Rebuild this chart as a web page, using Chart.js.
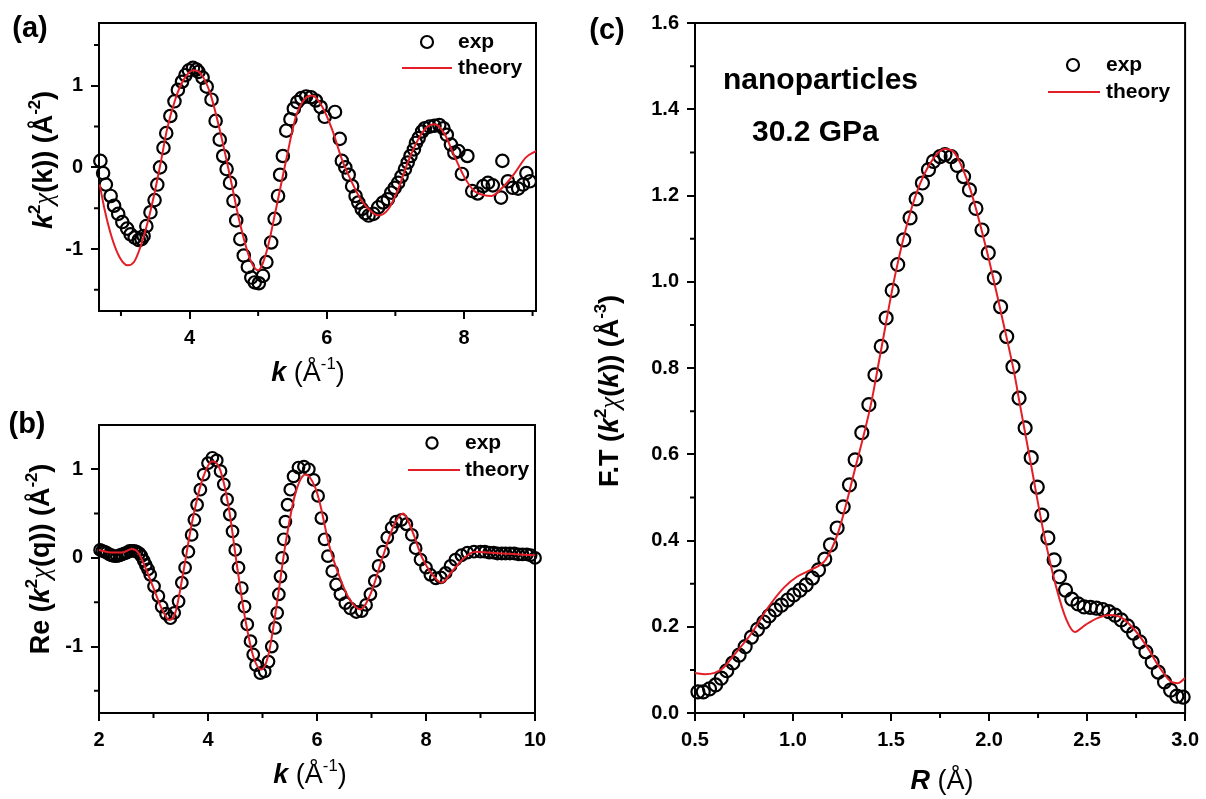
<!DOCTYPE html>
<html><head><meta charset="utf-8">
<script src="https://cdn.jsdelivr.net/npm/chart.js@4.4.1/dist/chart.umd.min.js"></script>
<style>
html,body{margin:0;padding:0;background:#fff;width:1206px;height:799px;overflow:hidden;position:relative}
canvas{position:absolute}
</style></head><body>
<canvas id="ca" width="560" height="400" style="left:0;top:0"></canvas>
<canvas id="cb" width="560" height="399" style="left:0;top:400px"></canvas>
<canvas id="cc" width="646" height="799" style="left:560px;top:0"></canvas>
<script>
// ---------------- data: panel (a) ----------------
const aExpK = [2.70,2.74,2.78,2.85,2.90,2.96,3.02,3.09,3.14,3.20,3.26,3.30,3.33,3.37,3.43,3.49,3.53,3.57,3.62,3.66,3.72,3.78,3.83,3.89,3.94,3.99,4.05,4.10,4.13,4.19,4.25,4.32,4.38,4.44,4.49,4.54,4.59,4.64,4.68,4.74,4.79,4.85,4.90,4.95,5.01,5.07,5.12,5.19,5.24,5.29,5.32,5.36,5.41,5.47,5.52,5.57,5.63,5.70,5.77,5.84,5.91,5.97,6.12,6.19,6.22,6.27,6.32,6.37,6.42,6.46,6.51,6.56,6.61,6.68,6.75,6.82,6.89,6.94,6.99,7.04,7.09,7.14,7.18,7.22,7.27,7.30,7.34,7.39,7.43,7.50,7.57,7.64,7.70,7.75,7.81,7.86,7.92,7.97,8.05,8.12,8.20,8.28,8.35,8.42,8.54,8.56,8.64,8.71,8.79,8.86,8.91,8.96];
const aExpV = [0.08,-0.07,-0.21,-0.35,-0.47,-0.57,-0.67,-0.75,-0.82,-0.86,-0.89,-0.88,-0.84,-0.72,-0.55,-0.40,-0.21,0.00,0.24,0.42,0.63,0.81,0.95,1.05,1.13,1.19,1.22,1.20,1.17,1.10,0.99,0.83,0.57,0.34,0.14,-0.02,-0.19,-0.41,-0.65,-0.88,-1.08,-1.22,-1.35,-1.41,-1.42,-1.33,-1.16,-0.92,-0.63,-0.35,-0.09,0.14,0.45,0.59,0.72,0.80,0.85,0.87,0.86,0.82,0.74,0.62,0.68,0.35,0.08,0.00,-0.09,-0.23,-0.35,-0.43,-0.51,-0.56,-0.59,-0.57,-0.49,-0.43,-0.39,-0.31,-0.25,-0.19,-0.11,-0.02,0.06,0.14,0.22,0.30,0.36,0.44,0.48,0.50,0.51,0.52,0.48,0.40,0.28,0.18,0.20,-0.08,0.14,-0.29,-0.32,-0.23,-0.19,-0.22,-0.37,0.08,-0.17,-0.25,-0.26,-0.21,-0.07,-0.17];
const aThK = [2.69,2.76,2.86,2.98,3.10,3.19,3.29,3.39,3.48,3.58,3.67,3.79,3.91,4.06,4.18,4.30,4.44,4.59,4.73,4.88,5.00,5.12,5.26,5.41,5.55,5.69,5.79,5.93,6.08,6.22,6.37,6.51,6.66,6.75,6.90,7.04,7.18,7.33,7.47,7.57,7.71,7.86,8.00,8.15,8.29,8.40,8.58,8.74,8.90,9.05];
const aThV = [-0.21,-0.51,-0.84,-1.10,-1.20,-1.16,-0.96,-0.67,-0.35,0.06,0.46,0.83,1.07,1.19,1.13,0.91,0.46,-0.11,-0.67,-1.12,-1.26,-1.04,-0.51,0.10,0.62,0.85,0.88,0.75,0.46,0.10,-0.19,-0.41,-0.55,-0.59,-0.51,-0.27,0.06,0.34,0.50,0.53,0.42,0.14,-0.11,-0.29,-0.34,-0.35,-0.23,-0.07,0.12,0.20];
const aXTicks = [4,6,8], aXMinor = [3,5,7,9];
const aYTicks = [-1,0,1], aYMinor = [-1.5,-0.5,0.5,1.5];

// ---------------- data: panel (b) ----------------
const bExpK = [2.02,2.06,2.10,2.14,2.19,2.23,2.28,2.33,2.38,2.42,2.47,2.51,2.56,2.60,2.65,2.69,2.74,2.78,2.82,2.86,2.90,2.94,3.01,3.09,3.15,3.23,3.31,3.38,3.46,3.52,3.58,3.64,3.70,3.75,3.80,3.86,3.92,4.00,4.08,4.16,4.23,4.29,4.35,4.40,4.45,4.50,4.56,4.62,4.67,4.72,4.78,4.83,4.88,4.96,5.04,5.11,5.17,5.23,5.27,5.30,5.33,5.36,5.39,5.42,5.46,5.51,5.57,5.66,5.76,5.85,5.94,6.02,6.08,6.14,6.20,6.28,6.35,6.43,6.52,6.61,6.72,6.82,6.90,6.98,7.06,7.13,7.21,7.29,7.37,7.45,7.55,7.64,7.74,7.81,7.90,8.00,8.08,8.18,8.27,8.36,8.45,8.54,8.65,8.76,8.88,9.00,9.08,9.16,9.24,9.31,9.39,9.46,9.54,9.62,9.70,9.77,9.85,9.92,10.0];
const bExpV = [0.09,0.08,0.07,0.06,0.04,0.03,0.02,0.02,0.03,0.04,0.05,0.06,0.08,0.08,0.08,0.07,0.05,0.02,-0.03,-0.08,-0.13,-0.19,-0.32,-0.43,-0.55,-0.63,-0.68,-0.62,-0.49,-0.28,-0.11,0.07,0.26,0.43,0.60,0.77,0.94,1.07,1.13,1.10,0.98,0.83,0.66,0.49,0.30,0.09,-0.11,-0.34,-0.55,-0.75,-0.94,-1.09,-1.21,-1.30,-1.28,-1.17,-1.00,-0.79,-0.62,-0.41,-0.21,0.00,0.21,0.41,0.60,0.77,0.92,1.02,1.03,1.00,0.88,0.70,0.45,0.21,0.02,-0.15,-0.30,-0.41,-0.51,-0.57,-0.61,-0.60,-0.53,-0.41,-0.26,-0.09,0.07,0.23,0.34,0.41,0.43,0.38,0.26,0.11,-0.02,-0.11,-0.19,-0.23,-0.22,-0.17,-0.09,-0.02,0.03,0.06,0.07,0.07,0.07,0.06,0.06,0.05,0.05,0.05,0.05,0.05,0.04,0.04,0.04,0.03,0.00];
const bThK = [2.00,2.23,2.42,2.60,2.72,2.85,3.00,3.15,3.29,3.40,3.55,3.70,3.89,4.08,4.22,4.38,4.53,4.68,4.84,4.98,5.11,5.27,5.42,5.60,5.79,5.97,6.06,6.22,6.40,6.58,6.80,6.98,7.20,7.42,7.58,7.75,7.93,8.12,8.29,8.48,8.70,8.91,9.16,9.40,9.70,10.0];
const bThV = [0.09,0.06,0.06,0.10,0.06,-0.11,-0.34,-0.57,-0.70,-0.62,-0.15,0.38,0.87,1.09,1.00,0.57,-0.08,-0.68,-1.13,-1.26,-1.09,-0.49,0.15,0.72,0.94,0.79,0.60,0.15,-0.19,-0.45,-0.58,-0.41,0.00,0.38,0.50,0.30,0.00,-0.19,-0.28,-0.15,0.00,0.07,0.06,0.05,0.04,0.03];
const bXTicks = [2,4,6,8,10], bXMinor = [3,5,7,9];
const bYTicks = [-1,0,1], bYMinor = [-1.5,-0.5,0.5];

// ---------------- data: panel (c) ----------------
const cExpR = [0.515,0.542,0.574,0.605,0.634,0.662,0.693,0.725,0.756,0.788,0.819,0.851,0.878,0.910,0.941,0.973,1.004,1.036,1.067,1.099,1.130,1.162,1.191,1.225,1.256,1.288,1.317,1.351,1.387,1.418,1.450,1.475,1.506,1.534,1.565,1.597,1.628,1.660,1.691,1.716,1.750,1.775,1.807,1.838,1.870,1.900,1.933,1.964,1.996,2.027,2.059,2.090,2.122,2.153,2.184,2.215,2.246,2.269,2.300,2.332,2.359,2.390,2.422,2.454,2.485,2.517,2.548,2.580,2.611,2.643,2.674,2.706,2.737,2.769,2.800,2.832,2.863,2.895,2.926,2.958,2.990];
const cExpV = [0.049,0.049,0.056,0.065,0.081,0.098,0.116,0.134,0.154,0.176,0.194,0.211,0.225,0.239,0.250,0.262,0.274,0.285,0.297,0.313,0.332,0.357,0.390,0.429,0.478,0.529,0.587,0.650,0.715,0.784,0.850,0.916,0.980,1.040,1.097,1.148,1.192,1.229,1.260,1.279,1.290,1.295,1.290,1.270,1.244,1.213,1.170,1.120,1.067,1.009,0.942,0.873,0.803,0.730,0.661,0.592,0.524,0.459,0.406,0.355,0.316,0.285,0.264,0.253,0.246,0.245,0.243,0.240,0.235,0.227,0.216,0.202,0.185,0.165,0.142,0.118,0.095,0.072,0.053,0.039,0.037];
const cThR = [0.50,0.55,0.60,0.64,0.70,0.79,0.87,0.956,1.02,1.09,1.166,1.229,1.313,1.397,1.44,1.523,1.607,1.69,1.775,1.817,1.90,1.985,2.069,2.132,2.153,2.216,2.279,2.342,2.395,2.437,2.49,2.553,2.616,2.679,2.742,2.805,2.868,2.93,2.962,3.0];
const cThV = [0.093,0.090,0.093,0.103,0.135,0.186,0.243,0.292,0.316,0.332,0.355,0.417,0.560,0.715,0.819,1.020,1.174,1.267,1.308,1.302,1.220,1.078,0.912,0.780,0.726,0.571,0.417,0.293,0.216,0.188,0.204,0.220,0.227,0.220,0.193,0.154,0.107,0.072,0.069,0.081];
const cXTicks = [0.5,1.0,1.5,2.0,2.5,3.0], cXMinor = [0.75,1.25,1.75,2.25,2.75];
const cYTicks = [0,0.2,0.4,0.6,0.8,1.0,1.2,1.4,1.6], cYMinor = [0.1,0.3,0.5,0.7,0.9,1.1,1.3,1.5];

// ---------------- helpers ----------------
const FONT = '"Liberation Sans", Arial, Helvetica, sans-serif';
const SERIF = '"Liberation Serif", "Times New Roman", serif';
const RED = '#e41e26';
const pts = (xs, ys) => xs.map((x, i) => ({x: x, y: ys[i]}));

function segFont(s, size) {
  const sz = s.sup ? size * 0.62 : size;
  if (s.st === 'gi') return 'italic ' + sz + 'px ' + SERIF;
  if (s.st === 'bi') return 'italic bold ' + sz + 'px ' + FONT;
  if (s.st === 'r') return sz + 'px ' + FONT;
  return 'bold ' + sz + 'px ' + FONT;
}
function drawRich(ctx, segs, cx, cy, size, rot) {
  ctx.save();
  ctx.translate(cx, cy);
  if (rot) ctx.rotate(-Math.PI / 2);
  let w = 0;
  segs.forEach(s => { ctx.font = segFont(s, size); s.w = ctx.measureText(s.t).width; w += s.w; });
  let x = -w / 2;
  ctx.textBaseline = 'alphabetic';
  ctx.textAlign = 'left';
  ctx.fillStyle = '#000';
  const base = size * 0.36;
  segs.forEach(s => { ctx.font = segFont(s, size); ctx.fillText(s.t, x, base - (s.sup ? size * 0.42 : 0)); x += s.w; });
  ctx.restore();
}

const deco = {
  id: 'deco',
  beforeDatasetsDraw(chart, args, o) {
    const ctx = chart.ctx, a = chart.chartArea;
    const xs = chart.scales.x, ys = chart.scales.y;
    ctx.save();
    ctx.strokeStyle = '#000';
    ctx.lineWidth = 2;
    ctx.strokeRect(a.left, a.top, a.right - a.left, a.bottom - a.top);
    ctx.beginPath();
    o.minorX.forEach(v => { const p = xs.getPixelForValue(v); ctx.moveTo(p, a.bottom); ctx.lineTo(p, a.bottom + 5); });
    o.minorY.forEach(v => { const p = ys.getPixelForValue(v); ctx.moveTo(a.left, p); ctx.lineTo(a.left - 5, p); });
    ctx.stroke();
    ctx.restore();
  },
  afterDraw(chart, args, o) {
    const ctx = chart.ctx;
    o.rich.forEach(r => drawRich(ctx, r.segs, r.x, r.y, r.size, r.rot));
    ctx.save();
    ctx.fillStyle = '#000';
    o.plain.forEach(p => {
      ctx.font = p.font; ctx.textAlign = p.align || 'left'; ctx.textBaseline = p.base || 'alphabetic';
      ctx.fillText(p.t, p.x, p.y);
    });
    const L = o.legend;
    ctx.strokeStyle = '#000'; ctx.lineWidth = 2.2;
    ctx.beginPath(); ctx.arc(L.cx, L.cy, L.r, 0, Math.PI * 2); ctx.stroke();
    ctx.strokeStyle = RED; ctx.lineWidth = 2;
    ctx.beginPath(); ctx.moveTo(L.lx1, L.ly); ctx.lineTo(L.lx2, L.ly); ctx.stroke();
    ctx.font = 'bold 21px ' + FONT; ctx.textAlign = 'left'; ctx.textBaseline = 'alphabetic';
    ctx.fillText('exp', L.tx, L.cy + 6);
    ctx.fillText('theory', L.tx, L.ly + 6);
    ctx.restore();
  }
};

function makeChart(id, c) {
  const tickFont = {family: FONT, size: 20, weight: 'bold'};
  const gridOpt = {display: true, drawOnChartArea: false, drawTicks: true, tickLength: 8, lineWidth: 2, color: '#000'};
  return new Chart(document.getElementById(id), {
    type: 'scatter',
    data: {datasets: [
      {label: 'theory', data: pts(c.thX, c.thY), showLine: true, borderColor: RED, borderWidth: 2,
       pointRadius: 0, cubicInterpolationMode: 'monotone', fill: false, order: 0},
      {label: 'exp', data: pts(c.exX, c.exY), showLine: false, pointStyle: 'circle', pointRadius: c.r,
       pointBorderWidth: 2.2, pointBorderColor: '#000', pointBackgroundColor: 'rgba(0,0,0,0)', order: 1, clip: false}
    ]},
    options: {
      responsive: false, animation: false, devicePixelRatio: 1,
      layout: {padding: {left: 0, top: c.area.top, right: c.w - c.area.right, bottom: 0}},
      plugins: {legend: {display: false}, tooltip: {enabled: false}, deco: c.deco},
      scales: {
        x: {type: 'linear', min: c.xmin, max: c.xmax,
            afterFit: s => { s.height = c.h - c.area.bottom; },
            afterBuildTicks: s => { s.ticks = c.xTicks.map(v => ({value: v})); },
            grid: gridOpt, border: {display: false},
            ticks: {color: '#000', font: tickFont, padding: 7, maxRotation: 0, autoSkip: false, callback: c.xFmt}},
        y: {type: 'linear', min: c.ymin, max: c.ymax,
            afterFit: s => { s.width = c.area.left; },
            afterBuildTicks: s => { s.ticks = c.yTicks.map(v => ({value: v})); },
            grid: gridOpt, border: {display: false},
            ticks: {color: '#000', font: tickFont, padding: 8, autoSkip: false, callback: c.yFmt}}
      }
    },
    plugins: [deco]
  });
}

const intFmt = v => String(v);
const f1 = v => v.toFixed(1);
const kTitle = () => [{t: 'k', st: 'bi'}, {t: ' (Å', st: 'r'}, {t: '-1', st: 'r', sup: true}, {t: ')', st: 'r'}];

makeChart('ca', {
  w: 560, h: 400, area: {left: 99, top: 23, right: 536, bottom: 311},
  xmin: 2.68, xmax: 9.05, ymin: -1.76, ymax: 1.77, r: 6.2,
  exX: aExpK, exY: aExpV, thX: aThK, thY: aThV,
  xTicks: aXTicks, yTicks: aYTicks, xFmt: intFmt, yFmt: intFmt,
  deco: {
    minorX: aXMinor, minorY: aYMinor,
    rich: [
      {segs: kTitle(), x: 308, y: 371, size: 27, rot: false},
      {segs: [{t: 'k', st: 'bi'}, {t: '2', st: 'b', sup: true}, {t: 'χ', st: 'gi'}, {t: '(k)) (Å', st: 'b'}, {t: '-2', st: 'b', sup: true}, {t: ')', st: 'b'}],
       x: 42, y: 160, size: 27, rot: true}
    ],
    plain: [{t: '(a)', x: 30, y: 29, font: 'bold 29px ' + FONT, align: 'center', base: 'middle'}],
    legend: {cx: 427, cy: 42, r: 6, lx1: 402, lx2: 452, ly: 68, tx: 458}
  }
});

makeChart('cb', {
  w: 560, h: 399, area: {left: 99, top: 25, right: 535, bottom: 313},
  xmin: 2, xmax: 10, ymin: -1.75, ymax: 1.5, r: 5.8,
  exX: bExpK, exY: bExpV, thX: bThK, thY: bThV,
  xTicks: bXTicks, yTicks: bYTicks, xFmt: intFmt, yFmt: intFmt,
  deco: {
    minorX: bXMinor, minorY: bYMinor,
    rich: [
      {segs: kTitle(), x: 310, y: 373, size: 27, rot: false},
      {segs: [{t: 'Re (', st: 'b'}, {t: 'k', st: 'bi'}, {t: '2', st: 'b', sup: true}, {t: 'χ', st: 'gi'}, {t: '(q)) (Å', st: 'b'}, {t: '-2', st: 'b', sup: true}, {t: ')', st: 'b'}],
       x: 39, y: 159, size: 27, rot: true}
    ],
    plain: [{t: '(b)', x: 27, y: 25, font: 'bold 29px ' + FONT, align: 'center', base: 'middle'}],
    legend: {cx: 432, cy: 43, r: 5.6, lx1: 408, lx2: 460, ly: 70, tx: 465}
  }
});

makeChart('cc', {
  w: 646, h: 799, area: {left: 135, top: 23, right: 627, bottom: 713},
  xmin: 0.5, xmax: 3.0, ymin: 0, ymax: 1.6, r: 6.5,
  exX: cExpR, exY: cExpV, thX: cThR, thY: cThV,
  xTicks: cXTicks, yTicks: cYTicks, xFmt: f1, yFmt: f1,
  deco: {
    minorX: cXMinor, minorY: cYMinor,
    rich: [
      {segs: [{t: 'R', st: 'bi'}, {t: ' (Å)', st: 'r'}], x: 382, y: 779, size: 27, rot: false},
      {segs: [{t: 'F.T (', st: 'b'}, {t: 'k', st: 'bi'}, {t: '2', st: 'b', sup: true}, {t: 'χ', st: 'gi'}, {t: '(', st: 'b'}, {t: 'k', st: 'bi'}, {t: ')) (Å', st: 'b'}, {t: '-3', st: 'b', sup: true}, {t: ')', st: 'b'}],
       x: 48, y: 391, size: 27, rot: true}
    ],
    plain: [
      {t: '(c)', x: 47, y: 31, font: 'bold 29px ' + FONT, align: 'center', base: 'middle'},
      {t: 'nanoparticles', x: 163, y: 89, font: 'bold 30px ' + FONT},
      {t: '30.2 GPa', x: 192, y: 141, font: 'bold 30px ' + FONT}
    ],
    legend: {cx: 513, cy: 65, r: 6, lx1: 488, lx2: 540, ly: 92, tx: 546}
  }
});
</script>
</body></html>
